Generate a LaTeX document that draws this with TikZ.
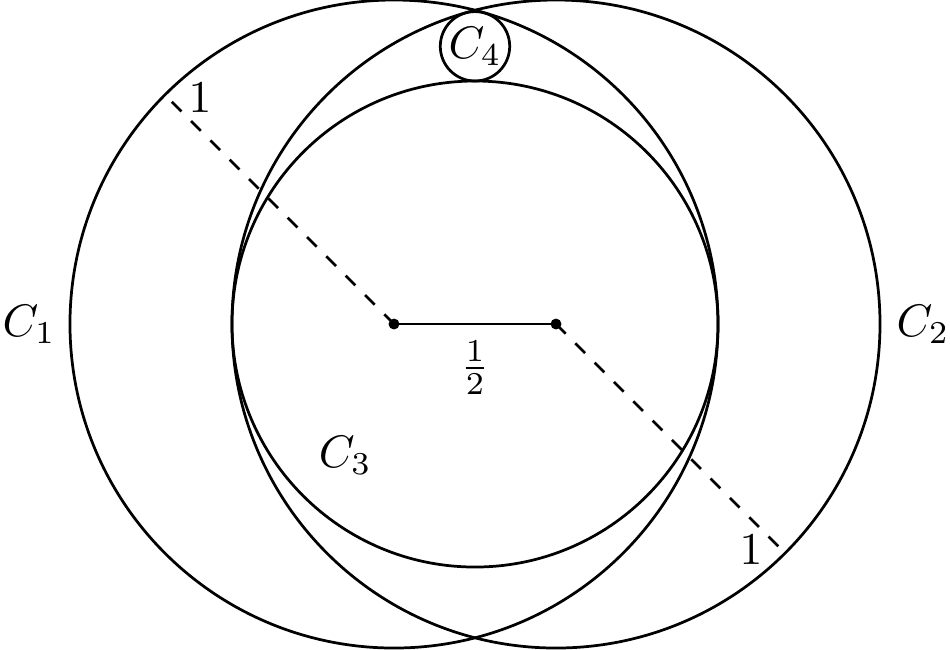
\documentclass[tikz,border=0pt]{standalone}
\usetikzlibrary{calc}
\begin{document}
\begin{tikzpicture}[x=2.5cm,y=2.5cm,semithick,
  dot/.style={fill=black,draw=none,circle,inner sep=0pt,minimum size=2.4pt},
  dashline/.style={dashed}]
\useasboundingbox (-1.466,-1.006) rectangle (1.466,1.0);
\coordinate (O1) at (-0.25,0);
\coordinate (O2) at (0.25,0);
\coordinate (O3) at (0,0);
\coordinate (O4) at (0,6/7);
\coordinate (P1) at ($(O1)+(135:1)$);
\coordinate (P2) at ($(O2)+(-45:1)$);
% circles
\draw (O1) circle (1);
\draw (O2) circle (1);
\draw (O3) circle (0.75);
\draw (O4) circle (3/28);
% segments
\draw[dashline] (O1) -- (P1);
\draw[dashline] (O2) -- (P2);
\draw (O1) -- (O2) node[midway,below] (half) {$\frac12$};
\node[dot] (d1) at (O1) {};
\node[dot] (d2) at (O2) {};
% labels
\node[left] (c1) at (-1.243,0) {$C_1$};
\node[right] (c2) at (1.25,0) {$C_2$};
\node (c3) at (-0.40,-0.405) {$C_3$};
\node (c4) at (O4) {$C_4$};
\node (l1) at (-0.849,0.698) {$1$};
\node (l2) at (0.852,-0.698) {$1$};
\end{tikzpicture}
\end{document}
